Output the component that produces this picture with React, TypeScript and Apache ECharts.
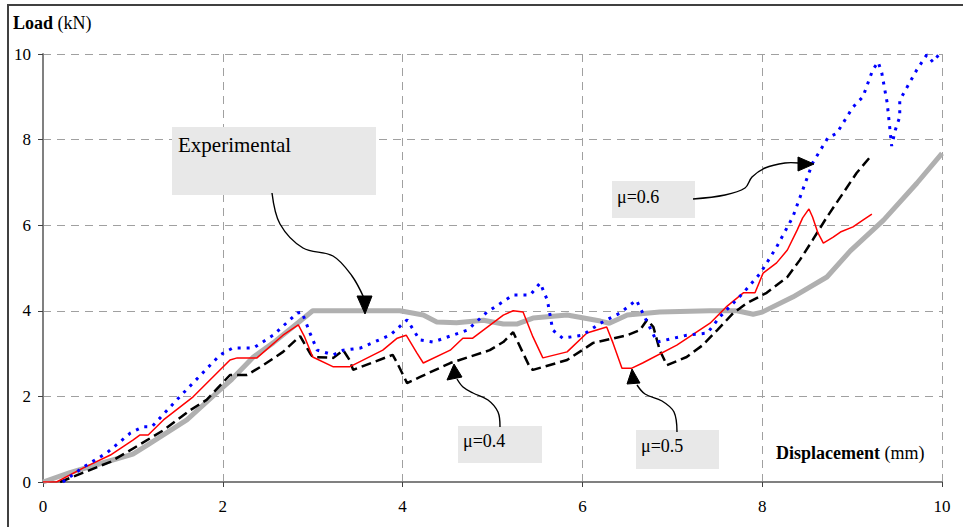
import React, { useEffect, useRef } from "react";
import * as echarts from "echarts";

const xTicks = [0, 2, 4, 6, 8, 10];
const yTicks = [0, 2, 4, 6, 8, 10];

const seriesNames = ["Experimental", "μ=0.4", "μ=0.5", "μ=0.6"];

const experimental: number[][] = [
  [0, 0], [0.3, 0.22], [0.67, 0.45], [1.0, 0.65], [1.16, 0.86], [1.6, 1.45], [1.93, 2.08],
  [2.1, 2.4], [2.34, 2.92], [2.56, 3.25], [2.83, 3.71], [3.0, 4.0], [3.5, 4.0], [3.97, 4.0],
  [4.23, 3.9], [4.38, 3.74], [4.6, 3.72], [4.9, 3.78], [5.12, 3.69], [5.27, 3.69], [5.45, 3.83],
  [5.83, 3.9], [6.2, 3.76], [6.3, 3.71], [6.5, 3.9], [6.86, 3.97], [7.42, 4.0], [7.72, 4.0],
  [7.9, 3.92], [8.0, 3.97], [8.34, 4.32], [8.72, 4.79], [8.98, 5.4], [9.35, 6.12], [9.72, 6.98],
  [10.0, 7.68],
];

const mu04: number[][] = [
  [0.19, 0], [0.45, 0.22], [0.75, 0.47], [1.08, 0.88], [1.34, 1.21], [1.64, 1.68], [1.82, 1.92],
  [2.08, 2.5], [2.27, 2.5], [2.45, 2.73], [2.67, 3.04], [2.86, 3.41], [2.97, 3.01], [3.0, 2.92],
  [3.23, 2.9], [3.34, 3.08], [3.41, 2.85], [3.45, 2.62], [3.89, 2.97], [3.94, 2.78], [4.05, 2.31],
  [4.19, 2.45], [4.53, 2.78], [4.97, 3.08], [5.12, 3.27], [5.23, 3.5], [5.27, 3.32], [5.42, 2.66],
  [5.45, 2.62], [5.83, 2.85], [6.12, 3.25], [6.5, 3.43], [6.64, 3.55], [6.72, 3.79], [6.79, 3.62],
  [6.86, 3.08], [6.94, 2.73], [7.16, 2.92], [7.34, 3.2], [7.5, 3.55], [7.68, 3.95], [7.83, 4.18],
  [8.05, 4.42], [8.28, 4.79], [8.42, 5.19], [8.56, 5.65], [8.72, 6.19], [8.9, 6.75], [9.05, 7.22],
  [9.22, 7.64],
];

const mu05: number[][] = [
  [0, 0], [0.15, 0], [0.45, 0.33], [0.75, 0.63], [1.0, 0.98], [1.08, 1.1], [1.17, 1.1],
  [1.34, 1.45], [1.67, 1.99], [2.08, 2.85], [2.16, 2.9], [2.38, 2.9], [2.67, 3.43], [2.84, 3.67],
  [2.91, 3.39], [3.0, 2.92], [3.23, 2.69], [3.41, 2.69], [3.78, 3.08], [3.94, 3.36], [4.04, 3.43],
  [4.16, 3.01], [4.23, 2.78], [4.53, 3.08], [4.67, 3.36], [4.78, 3.36], [5.12, 3.9], [5.23, 4.0],
  [5.34, 3.97], [5.45, 3.39], [5.56, 2.9], [5.83, 3.04], [6.05, 3.48], [6.27, 3.62], [6.34, 3.25],
  [6.44, 2.66], [6.55, 2.66], [6.67, 2.78], [7.05, 3.2], [7.42, 3.71], [7.6, 4.09], [7.79, 4.42],
  [7.92, 4.42], [8.01, 4.88], [8.16, 5.12], [8.28, 5.42], [8.39, 5.89], [8.45, 6.17], [8.52, 6.38],
  [8.56, 6.19], [8.62, 5.82], [8.68, 5.58], [8.79, 5.72], [8.87, 5.84], [9.01, 5.96], [9.12, 6.12],
  [9.22, 6.26],
];

const mu06: number[][] = [
  [0.22, 0], [0.45, 0.35], [0.71, 0.68], [0.97, 1.14], [1.11, 1.29], [1.21, 1.29], [1.52, 1.99],
  [1.97, 2.97], [2.11, 3.13], [2.34, 3.13], [2.56, 3.43], [2.83, 3.95], [2.88, 3.97], [2.97, 3.48],
  [3.05, 3.08], [3.23, 2.97], [3.34, 3.08], [3.53, 3.13], [3.86, 3.43], [4.05, 3.79], [4.19, 3.32],
  [4.34, 3.27], [4.72, 3.55], [4.94, 3.97], [5.23, 4.37], [5.42, 4.37], [5.53, 4.65], [5.61, 4.25],
  [5.67, 3.55], [5.78, 3.36], [6.0, 3.43], [6.2, 3.71], [6.42, 3.95], [6.6, 4.25], [6.72, 3.74],
  [6.83, 3.27], [7.16, 3.43], [7.39, 3.48], [7.53, 3.86], [7.79, 4.42], [7.98, 4.88], [8.16, 5.49],
  [8.34, 6.19], [8.56, 7.45], [8.73, 8.04], [8.83, 8.15], [9.01, 8.76], [9.12, 9.0], [9.23, 9.63],
  [9.29, 9.81], [9.33, 9.56], [9.39, 8.86], [9.44, 7.85], [9.48, 8.22], [9.53, 8.53], [9.53, 8.92],
  [9.72, 9.63], [9.83, 9.98], [9.9, 9.81], [9.97, 10.0],
];

const SERIF = "Liberation Serif";

function arrow(points: number[][], head: number[][]) {
  return [
    {
      type: "polyline",
      z: 100,
      shape: { points, smooth: 0.35 },
      style: { stroke: "#000", lineWidth: 1.4, fill: null },
      silent: true,
    },
    {
      type: "polygon",
      z: 100,
      shape: { points: head },
      style: { fill: "#000", stroke: "#000", lineWidth: 1 },
      silent: true,
    },
  ];
}

function labelBox(x: number, y: number, w: number, h: number, text: string, tx: number, ty: number, size: number) {
  return [
    { type: "rect", z: 90, shape: { x, y, width: w, height: h }, style: { fill: "#e8e8e8" }, silent: true },
    {
      type: "text",
      z: 101,
      x: tx,
      y: ty,
      style: { text, fill: "#000", font: `${size}px ${SERIF}`, verticalAlign: "middle", align: "left" },
      silent: true,
    },
  ];
}

export default function App() {
  const ref = useRef<HTMLDivElement>(null);
  useEffect(() => {
    if (!ref.current) return;
    const chart = echarts.init(ref.current, undefined, { renderer: "svg" });
    const axisLabel = { fontFamily: SERIF, fontSize: 17, color: "#000" };
    const splitLine = { show: true, lineStyle: { color: "#a0a0a0", width: 1, type: [8, 6] as any } };
    chart.setOption({
      animation: false,
      backgroundColor: "#fff",
      textStyle: { fontFamily: SERIF },
      grid: { left: 43, right: 21, top: 54, bottom: 45, containLabel: false },
      xAxis: {
        type: "value",
        min: xTicks[0],
        max: xTicks[xTicks.length - 1],
        interval: xTicks[1] - xTicks[0],
        axisLine: { lineStyle: { color: "#808080", width: 2 } },
        axisTick: { show: true, length: 5, lineStyle: { color: "#404040", width: 1 } },
        axisLabel: { ...axisLabel, margin: 16 },
        splitLine,
      },
      yAxis: {
        type: "value",
        min: yTicks[0],
        max: yTicks[yTicks.length - 1],
        interval: yTicks[1] - yTicks[0],
        axisLine: { show: true, lineStyle: { color: "#808080", width: 2 } },
        axisTick: { show: true, length: 5, lineStyle: { color: "#404040", width: 1 } },
        axisLabel: { ...axisLabel, margin: 12 },
        splitLine,
      },
      series: [
        {
          name: seriesNames[0], type: "line", data: experimental, showSymbol: false, z: 2,
          lineStyle: { color: "#b0b0b0", width: 5 },
        },
        {
          name: seriesNames[1], type: "line", data: mu04, showSymbol: false, z: 3,
          lineStyle: { color: "#000000", width: 2.5, type: [10, 5] },
        },
        {
          name: seriesNames[2], type: "line", data: mu05, showSymbol: false, z: 4,
          lineStyle: { color: "#ff0000", width: 1.5 },
        },
        {
          name: seriesNames[3], type: "line", data: mu06, showSymbol: false, z: 5,
          lineStyle: { color: "#0000ff", width: 3, type: [3, 6] },
        },
      ],
      graphic: [
        { type: "rect", z: 100, shape: { x: 8, y: 5, width: 1100, height: 700 }, style: { fill: null, stroke: "#404040", lineWidth: 2 }, silent: true },
        {
          type: "text", z: 101, x: 13, y: 23,
          style: {
            text: "{b|Load} {r|(kN)}", fill: "#000", font: `18px ${SERIF}`, verticalAlign: "middle",
            rich: {
              b: { fontWeight: "bold", fontFamily: SERIF, fontSize: 18 },
              r: { fontFamily: SERIF, fontSize: 18 },
            },
          },
          silent: true,
        },
        {
          type: "text", z: 101, x: 776, y: 453,
          style: {
            text: "{b|Displacement} {r|(mm)}", fill: "#000", font: `18px ${SERIF}`, verticalAlign: "middle",
            rich: {
              b: { fontWeight: "bold", fontFamily: SERIF, fontSize: 18 },
              r: { fontFamily: SERIF, fontSize: 18 },
            },
          },
          silent: true,
        },
        ...labelBox(172, 127, 204, 68, seriesNames[0], 178, 145, 21),
        ...labelBox(612, 181, 83, 37, seriesNames[3], 617, 197, 18),
        ...labelBox(458, 426, 84, 37, seriesNames[1], 463, 441, 18),
        ...labelBox(636, 430, 83, 39, seriesNames[2], 641, 446, 18),
        ...arrow([[272, 193], [280, 224], [303, 248], [333, 256], [352, 276], [364, 298]], [[365, 314], [357, 296], [372, 296]]),
        ...arrow([[693, 199], [725, 195], [745, 188], [752, 177], [765, 168], [785, 163], [799, 163]], [[814, 164], [798, 157], [798, 171]]),
        ...arrow([[500, 427], [498, 412], [488, 400], [473, 393], [463, 387], [457, 379]], [[454, 364], [447, 380], [462, 377]]),
        ...arrow([[677, 432], [674, 412], [662, 401], [645, 394], [637, 385]], [[632, 369], [627, 384], [640, 383]]),
      ],
    });
    return () => chart.dispose();
  }, []);
  return <div ref={ref} style={{ position: "absolute", left: 0, top: 0, width: 963, height: 527 }} />;
}
